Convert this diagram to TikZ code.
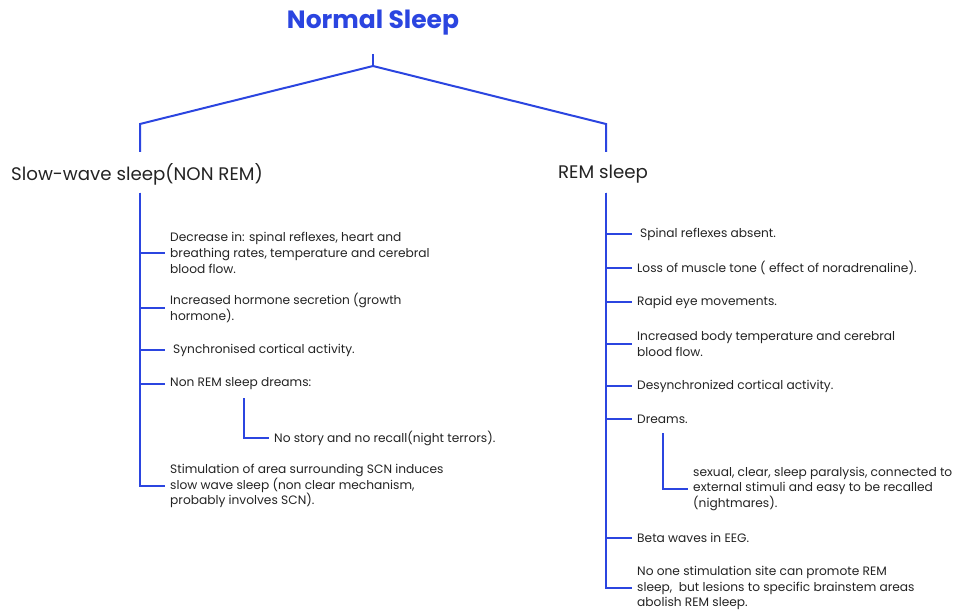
\documentclass[tikz,border=0pt]{standalone}
\usepackage{fontspec}
\setmainfont{Poppins}
\usepackage{tikz}
\usetikzlibrary{positioning}
\definecolor{tblue}{RGB}{43, 69, 224}
\definecolor{tgray}{RGB}{35, 35, 35}
\tikzstyle{maintitle} = [text=tblue, inner sep=0pt, font=\bfseries\fontsize{25}{29}\selectfont]
\tikzstyle{head} = [text=tgray, inner sep=0pt, font=\fontsize{18.2}{22}\selectfont]
\tikzstyle{item} = [text=tgray, anchor=west, align=left, inner xsep=5pt, inner ysep=0pt, font=\fontsize{12.2}{15.8}\selectfont]
\tikzstyle{tedge} = [draw, tblue, line width=2pt]

\begin{document}
\begin{tikzpicture}[x=1pt, y=-1pt]
\useasboundingbox (0,0) rectangle (955,612);

% headings =============================

\node[maintitle] (top) at (373,23) {Normal Sleep};
\node[head] (nrem) at (137,174) {Slow-wave sleep(NON REM)};
\node[head] (rem) at (603,174) {REM sleep};

\coordinate (stem) at (373,54);
\coordinate (fork) at (373,66);
\coordinate (lcorner) at (140,124);
\coordinate (rcorner) at (606,124);
\coordinate (lhead) at (140,152);
\coordinate (rhead) at (606,152);
\coordinate (lspine) at (140,193);
\coordinate (rspine) at (606,193);

% slow-wave sleep
\node[item] (a1) at (165,253) {Decrease in: spinal reflexes, heart and\\breathing rates, temperature and cerebral\\blood flow.};
\node[item] (a2) at (165,308) {Increased hormone secretion (growth\\hormone).};
\node[item] (a3) at (165,350) {\hspace{3pt}Synchronised cortical activity.};
\node[item] (a4) at (165,384) {Non REM sleep dreams:};
\coordinate (lsub) at (244,398);
\node[item] (a5) at (269,438) {No story and no recall(night terrors).};
\node[item] (a6) at (165,486) {Stimulation of area surrounding SCN induces\\slow wave sleep (non clear mechanism,\\probably involves SCN).};

% REM sleep
\node[item] (b1) at (632,234) {\hspace{3pt}Spinal reflexes absent.};
\node[item] (b2) at (632,268) {Loss of muscle tone ( effect of noradrenaline).};
\node[item] (b3) at (632,302) {Rapid eye movements.};
\node[item] (b4) at (632,344) {Increased body temperature and cerebral\\blood flow.};
\node[item] (b5) at (632,386) {Desynchronized cortical activity.};
\node[item] (b6) at (632,419) {Dreams.};
\coordinate (rsub) at (663,433);
\node[item] (b7) at (688,489) {sexual, clear, sleep paralysis, connected to\\external stimuli and easy to be recalled\\(nightmares).};
\node[item] (b8) at (632,538) {Beta waves in EEG.};
\node[item] (b9) at (632,588) {No one stimulation site can promote REM\\sleep,\ \ but lesions to specific brainstem areas\\abolish REM sleep.};

%edges
\path[tedge] (stem) -- (fork);
\path[tedge] (fork) -- (lcorner) -- (lhead);
\path[tedge] (fork) -- (rcorner) -- (rhead);

\path[tedge] (lspine) |- (a1.west);
\path[tedge] (lspine) |- (a2.west);
\path[tedge] (lspine) |- (a3.west);
\path[tedge] (lspine) |- (a4.west);
\path[tedge] (lspine) |- (a6.west);
\path[tedge] (lsub) |- (a5.west);

\path[tedge] (rspine) |- (b1.west);
\path[tedge] (rspine) |- (b2.west);
\path[tedge] (rspine) |- (b3.west);
\path[tedge] (rspine) |- (b4.west);
\path[tedge] (rspine) |- (b5.west);
\path[tedge] (rspine) |- (b6.west);
\path[tedge] (rspine) |- (b8.west);
\path[tedge] (rspine) |- (b9.west);
\path[tedge] (rsub) |- (b7.west);

\end{tikzpicture}
\end{document}
